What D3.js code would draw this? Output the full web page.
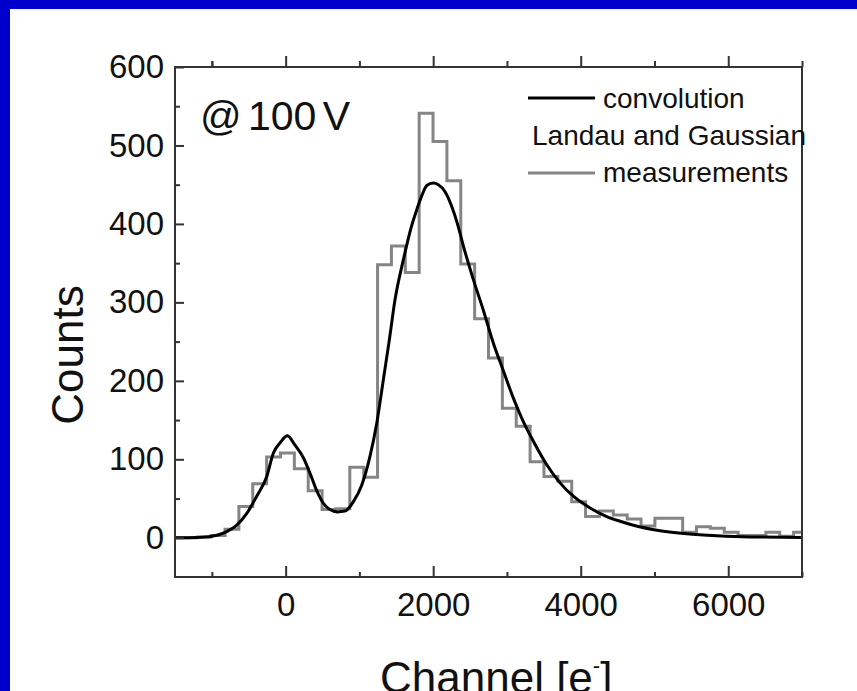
<!DOCTYPE html>
<html>
<head>
<meta charset="utf-8">
<script src="https://cdn.jsdelivr.net/npm/d3@7"></script>
<style>
    body { margin: 0; background: #0000cc; }
    svg { display: block; }
    text { font-family: "Liberation Sans", Arial, sans-serif; }
</style>
</head>
<body>
<div id="chart1"></div>
<script>
// histogram of the measurements: first bin starts at binStart, every bin is binWidth wide
let binStart = -1574;
let binWidth = 188;
let counts = [0, 0, 1, 3, 11, 40, 69, 103, 108, 88, 60, 36, 37, 90, 77,
    348, 372, 338, 541, 505, 455, 349, 279, 229, 165, 142, 97, 78, 72, 46,
    27, 34, 29, 24, 15, 25, 25, 7, 14, 12, 7, 3, 3, 7, 2, 7];

// convolution of Landau and Gaussian
let fitX = [-1500, -1200, -1000, -845, -663, -527, -392, -256, -166, -76, 23, 127,
    240, 331, 421, 511, 602, 700, 805, 918, 1031, 1144, 1235, 1330, 1410, 1482,
    1600, 1700, 1777, 1850, 1913, 2000, 2070, 2161, 2240, 2320, 2430, 2545, 2680,
    2816, 2951, 3087, 3222, 3358, 3540, 3720, 3900, 4127, 4353, 4534, 4714, 5076,
    5438, 5845, 6296, 7000];
let fitY = [0, 0.5, 2, 6, 16, 31, 53, 78, 108, 121, 130, 118,
    102, 82, 60, 44, 36, 33, 34, 46, 67, 104, 146, 205, 255, 303,
    356, 395, 418, 437, 449, 452, 450, 441, 425, 403, 365, 329, 290,
    248, 213, 178, 148, 123, 93, 70, 53, 38, 27, 21, 16, 9,
    5, 2.5, 1, 0.5];

// ticks
let xMajor = [0, 2000, 4000, 6000];
let xMinor = [-1000, 1000, 3000, 5000, 7000];
let yMajor = [0, 100, 200, 300, 400, 500, 600];
let yMinor = [50, 150, 250, 350, 450, 550];

let legendLabels = ['convolution', 'Landau and Gaussian', 'measurements'];

// Chart dimensions
let dim = { 'width': 857, 'height': 691 };
let plot = { 'left': 175, 'top': 67, 'right': 802, 'bottom': 577 };

let svg = d3.select('#chart1')
    .append('svg')
    .attr('width', dim.width)
    .attr('height', dim.height);

// white panel inside the blue border
svg.append('rect')
    .attr('x', 10).attr('y', 9)
    .attr('width', dim.width - 10).attr('height', dim.height - 9)
    .attr('fill', '#ffffff');

let scaleX = d3.scaleLinear()
    .domain([-1500, 7000])
    .range([plot.left, plot.right]);

let scaleY = d3.scaleLinear()
    .domain([-50, 600])
    .range([plot.bottom, plot.top]);

svg.append('clipPath').attr('id', 'clip')
    .append('rect')
    .attr('x', plot.left).attr('y', plot.top)
    .attr('width', plot.right - plot.left).attr('height', plot.bottom - plot.top);

// step line for the histogram, one point per bin edge
let bins = counts.map((c, i) => ({ x: binStart + i * binWidth, y: c }));
bins.push({ x: binStart + counts.length * binWidth, y: counts[counts.length - 1] });

let step = d3.line()
    .x(d => scaleX(d.x))
    .y(d => scaleY(d.y))
    .curve(d3.curveStepAfter);

svg.append('path')
    .attr('clip-path', 'url(#clip)')
    .attr('d', step(bins))
    .attr('fill', 'none')
    .attr('stroke', '#858585')
    .attr('stroke-width', 3);

// fitted curve
let fit = fitX.map((x, i) => ({ x: x, y: fitY[i] }));
let line = d3.line()
    .x(d => scaleX(d.x))
    .y(d => scaleY(d.y))
    .curve(d3.curveMonotoneX);

svg.append('path')
    .attr('clip-path', 'url(#clip)')
    .attr('d', line(fit))
    .attr('fill', 'none')
    .attr('stroke', '#000000')
    .attr('stroke-width', 3);

// axes: ticks point inwards at the bottom and left, outwards on top
function addAxis(axis, transform, size, values, labels, pad) {
    let g = svg.append('g')
        .attr('transform', transform)
        .call(axis.tickValues(values)
            .tickSize(size)
            .tickSizeOuter(0)
            .tickPadding(pad)
            .tickFormat(labels ? d3.format('d') : ''));
    g.select('.domain').remove();
    g.selectAll('line').attr('stroke', '#333').attr('stroke-width', 2);
    g.selectAll('text')
        .attr('font-size', '33px')
        .attr('fill', '#111');
    return g;
}

addAxis(d3.axisBottom(scaleX), `translate(0,${plot.bottom})`, -11, xMajor, true, 16);
addAxis(d3.axisBottom(scaleX), `translate(0,${plot.bottom})`, -5, xMinor, false, 0);
addAxis(d3.axisTop(scaleX), `translate(0,${plot.top})`, 11, xMajor, false, 0);
addAxis(d3.axisTop(scaleX), `translate(0,${plot.top})`, 6, xMinor.concat([-1000]), false, 0);
addAxis(d3.axisLeft(scaleY), `translate(${plot.left},0)`, -9, yMajor, true, 11);
addAxis(d3.axisLeft(scaleY), `translate(${plot.left},0)`, -5, yMinor, false, 0);

// frame
svg.append('rect')
    .attr('x', plot.left).attr('y', plot.top)
    .attr('width', plot.right - plot.left).attr('height', plot.bottom - plot.top)
    .attr('fill', 'none')
    .attr('stroke', '#333')
    .attr('stroke-width', 2);

// axis titles
svg.append('text')
    .attr('transform', 'translate(83,355) rotate(-90)')
    .attr('text-anchor', 'middle')
    .attr('font-size', '44px')
    .attr('fill', '#111')
    .text('Counts');

let xTitle = svg.append('text')
    .attr('x', 380).attr('y', 693)
    .attr('font-size', '44px')
    .attr('fill', '#111');
xTitle.append('tspan').text('Channel [e');
xTitle.append('tspan').attr('font-size', '22px').attr('dy', -20).text('-');
xTitle.append('tspan').attr('dy', 20).text(']');

// annotation
svg.append('text')
    .attr('x', 200).attr('y', 130)
    .attr('font-size', '41px')
    .attr('word-spacing', '-5px')
    .attr('fill', '#111')
    .text('@ 100 V');

// legend
svg.append('line')
    .attr('x1', 528).attr('x2', 595).attr('y1', 98).attr('y2', 98)
    .attr('stroke', '#000').attr('stroke-width', 3);
svg.append('line')
    .attr('x1', 528).attr('x2', 595).attr('y1', 173).attr('y2', 173)
    .attr('stroke', '#858585').attr('stroke-width', 3);

svg.append('text').attr('x', 603).attr('y', 108)
    .attr('font-size', '28px').attr('fill', '#111').text(legendLabels[0]);
svg.append('text').attr('x', 806).attr('y', 145).attr('text-anchor', 'end')
    .attr('font-size', '28px').attr('fill', '#111').text(legendLabels[1]);
svg.append('text').attr('x', 603).attr('y', 182)
    .attr('font-size', '28px').attr('fill', '#111').text(legendLabels[2]);
</script>
</body>
</html>
